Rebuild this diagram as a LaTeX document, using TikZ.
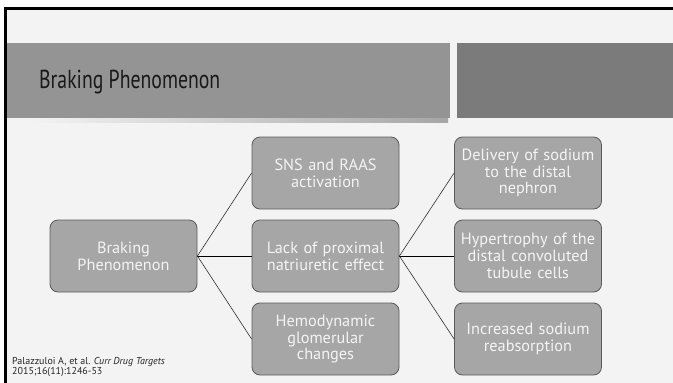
\documentclass[tikz,border=0pt]{standalone}
\usepackage{fontspec}
\setmainfont{PT Sans}
\newfontfamily\titlefont[FakeStretch=0.76]{PT Sans}
\definecolor{slidebg}{HTML}{F3F3F3}
\definecolor{titlebar}{HTML}{949494}
\definecolor{titlebox}{HTML}{7B7B7B}
\definecolor{boxfill}{HTML}{A6A6A6}
\definecolor{boxline}{HTML}{5A5A5A}
\definecolor{boxtext}{HTML}{F4F4F4}
\definecolor{linecol}{HTML}{303030}
\tikzset{
  gbox/.style={draw=boxline, line width=0.8pt, fill=boxfill, rounded corners=8pt,
    minimum height=72pt, inner sep=2pt, align=center, text=boxtext,
    font=\fontsize{16.3}{16.8}\selectfont},
  midbox/.style={gbox, minimum width=145pt, text width=143pt},
  link/.style={draw=linecol, line width=0.6pt},
  straight/.style={draw=black, line width=1pt}
}
\begin{document}
\begin{tikzpicture}[x=1pt,y=-1pt]
\useasboundingbox (0,0) rectangle (673,383);
\fill[white] (0,0) rectangle (673,383);
\fill[black] (4,7) rectangle (673,383);
\fill[slidebg] (7,10) rectangle (673,383);
% title bar shadow
\shade[left color=slidebg, right color=black!35] (30,118) rectangle (448,122);
\fill[titlebar] (7,43) rectangle (450,118);
\fill[titlebox] (457,43) rectangle (673,118);
\node[anchor=base west, inner sep=0pt, font=\titlefont\fontsize{26}{28}\selectfont, text=black!90] (title) at (39,88) {Braking Phenomenon};
% boxes
\node[midbox] (root) at (123.5,256) {Braking\\Phenomenon};
\node[midbox] (m1) at (325.5,173) {SNS and RAAS\\activation};
\node[midbox] (m2) at (325.5,256) {Lack of proximal\\natriuretic effect};
\node[midbox] (m3) at (325.5,339) {Hemodynamic\\glomerular\\changes};
\node[midbox] (r1) at (528,173) {Delivery of sodium\\to the distal\\nephron};
\node[midbox] (r2) at (528,256) {Hypertrophy of the\\distal convoluted\\tubule cells};
\node[midbox] (r3) at (528,339) {Increased sodium\\reabsorption};
% connectors
\draw[link] (root.east) -- (m1.west);
\draw[straight] (root.east) -- (m2.west);
\draw[link] (root.east) -- (m3.west);
\draw[link] (m2.east) -- (r1.west);
\draw[straight] (m2.east) -- (r2.west);
\draw[link] (m2.east) -- (r3.west);
% reference
\node[anchor=north west, inner sep=0pt, align=left, text=black!85, font=\fontsize{10}{10.2}\selectfont] (ref) at (12,357) {Palazzuloi A, et al. \textit{Curr Drug Targets}\\2015;16(11):1246-53};
\end{tikzpicture}
\end{document}
